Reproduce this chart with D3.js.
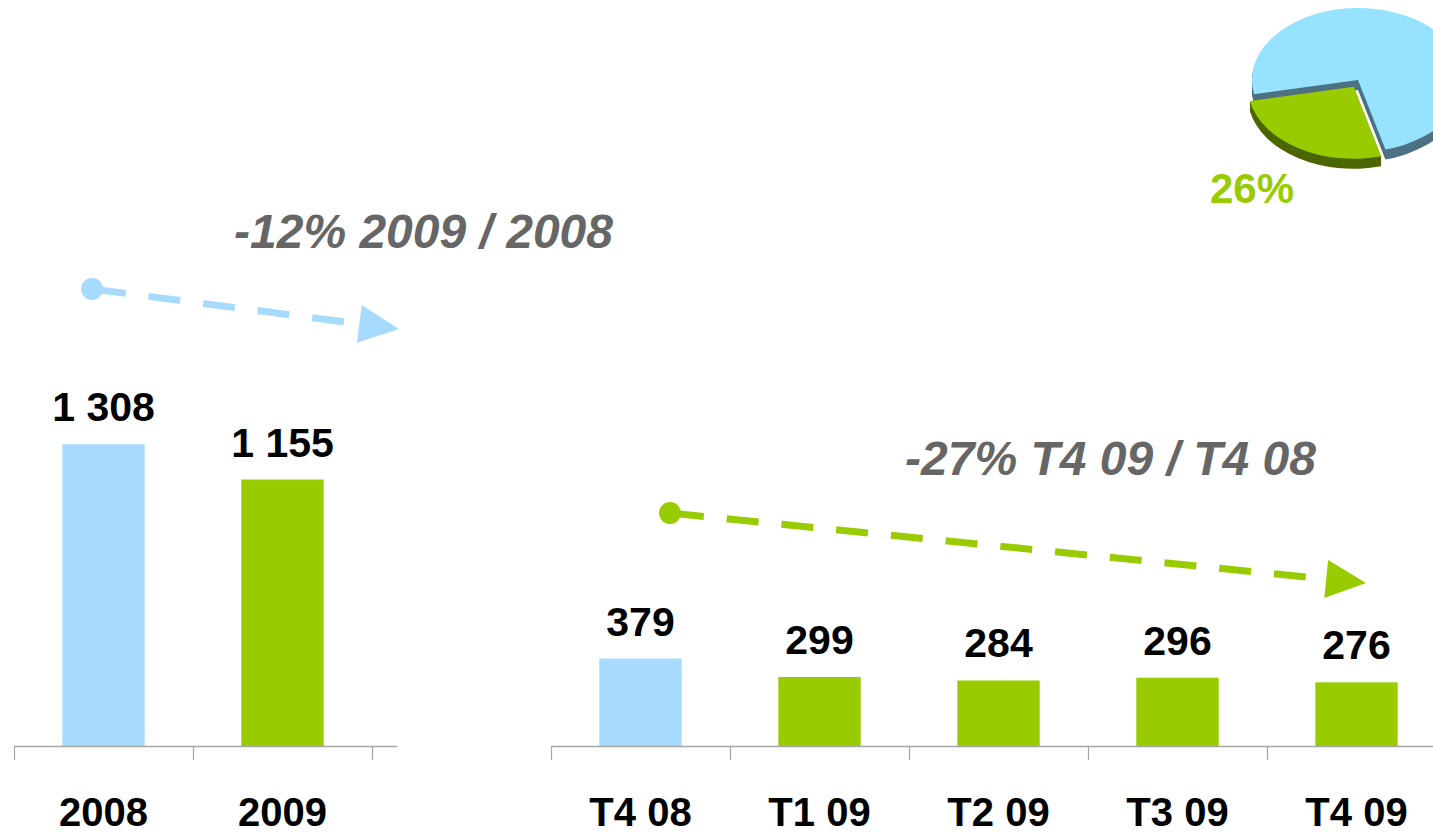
<!DOCTYPE html>
<html>
<head>
<meta charset="utf-8">
<script src="https://cdn.jsdelivr.net/npm/d3@7"></script>
<style>
  html, body { margin: 0; padding: 0; background: #ffffff; }
  svg { display: block; font-family: Arial, "Liberation Sans", sans-serif; }
</style>
</head>
<body>
<svg id="chart" width="1433" height="833"></svg>
<script>
// ---- Data ----
const yearCategories = ["2008", "2009"];
const yearValues = [1308, 1155];
const yearLabels = ["1 308", "1 155"];
const quarterCategories = ["T4 08", "T1 09", "T2 09", "T3 09", "T4 09"];
const quarterValues = [379, 299, 284, 296, 276];
const quarterLabels = ["379", "299", "284", "296", "276"];
const yearTitle = "-12% 2009 / 2008";
const quarterTitle = "-27% T4 09 / T4 08";
const pieShares = [26, 74];
const pieLabel = "26%";

// ---- Styles ----
const BLUE = "#A6DBFF", GREEN = "#99CC00", AXIS = "#A6A6A6", TITLE = "#666666";
const PIE_BLUE = "#97E2FF", PIE_BLUE_DARK = "#4E7183", PIE_GREEN_DARK = "#4C6600";

const svg = d3.select("#chart");
const baseline = 746;
const y = d3.scaleLinear().domain([0, 1400]).range([baseline, 423]);

function drawPanel(cats, vals, labels, range, axisEnd, colorFn) {
  const x = d3.scaleBand().domain(cats).range(range).padding(0);
  const g = svg.append("g");
  const bw = x.bandwidth() * 0.46;
  g.selectAll("rect").data(vals).enter().append("rect")
    .attr("x", (d, i) => x(cats[i]) + x.bandwidth() / 2 - bw / 2)
    .attr("width", bw)
    .attr("y", d => y(d))
    .attr("height", d => baseline - y(d))
    .attr("fill", (d, i) => colorFn(i));
  // axis line
  g.append("line").attr("x1", range[0]).attr("x2", axisEnd)
    .attr("y1", baseline + 0.5).attr("y2", baseline + 0.5)
    .attr("stroke", AXIS).attr("stroke-width", 1.5);
  const tickPos = cats.map(c => x(c)).concat([range[1]]);
  g.selectAll("line.tick").data(tickPos).enter().append("line")
    .attr("class", "tick")
    .attr("x1", d => Math.round(d) + 0.5).attr("x2", d => Math.round(d) + 0.5)
    .attr("y1", baseline).attr("y2", baseline + 14)
    .attr("stroke", AXIS).attr("stroke-width", 1.2);
  // value labels
  g.selectAll("text.val").data(vals).enter().append("text")
    .attr("class", "val")
    .attr("x", (d, i) => x(cats[i]) + x.bandwidth() / 2)
    .attr("y", d => y(d) - 23)
    .attr("text-anchor", "middle")
    .attr("font-size", 41).attr("font-weight", "bold").attr("fill", "#000")
    .text((d, i) => labels[i]);
  // category labels
  g.selectAll("text.cat").data(cats).enter().append("text")
    .attr("class", "cat")
    .attr("x", d => x(d) + x.bandwidth() / 2)
    .attr("y", 826)
    .attr("text-anchor", "middle")
    .attr("font-size", 40).attr("font-weight", "bold").attr("fill", "#000")
    .text(d => d);
}

drawPanel(yearCategories, yearValues, yearLabels, [14, 372], 397, i => i === 0 ? BLUE : GREEN);
drawPanel(quarterCategories, quarterValues, quarterLabels, [551, 1446], 1433, i => i === 0 ? BLUE : GREEN);

// ---- Titles ----
function title(txt, xPos, yPos) {
  svg.append("text").attr("x", xPos).attr("y", yPos)
    .attr("font-size", 48).attr("font-weight", "bold").attr("font-style", "italic")
    .attr("fill", TITLE).text(txt);
}
title(yearTitle, 234, 248);
title(quarterTitle, 905, 475);

// ---- Dashed trend arrows ----
function arrow(x1, y1, x2, y2, color) {
  const g = svg.append("g");
  const ang = Math.atan2(y2 - y1, x2 - x1);
  const headLen = 40, headHalf = 19;
  const bx = x2 - headLen * Math.cos(ang), by = y2 - headLen * Math.sin(ang);
  g.append("line").attr("x1", x1).attr("y1", y1).attr("x2", bx).attr("y2", by)
    .attr("stroke", color).attr("stroke-width", 7)
    .attr("stroke-dasharray", "32,23").attr("stroke-dashoffset", -2);
  g.append("circle").attr("cx", x1).attr("cy", y1).attr("r", 11).attr("fill", color);
  const px = -Math.sin(ang), py = Math.cos(ang);
  g.append("path")
    .attr("d", `M${x2},${y2} L${bx + px * headHalf},${by + py * headHalf} L${bx - px * headHalf},${by - py * headHalf} Z`)
    .attr("fill", color);
}
arrow(92, 289, 399, 329, BLUE);
arrow(670, 513, 1366, 583, GREEN);

// ---- 3D pie (top right) ----
const cx = 1358, cy = 80, rx = 106, ry = 72, depth = 10;
const startAngle = 165 * Math.PI / 180;
const pie = d3.pie().sort(null).startAngle(startAngle).endAngle(startAngle + 2 * Math.PI);
const arcs = pie(pieShares);
const arcGen = d3.arc().innerRadius(0).outerRadius(rx);
const sliceStyles = [
  { top: GREEN, side: PIE_GREEN_DARK, explode: 8 },
  { top: PIE_BLUE, side: PIE_BLUE_DARK, explode: 0 }
];
const pieG = svg.append("g");
[1, 0].forEach(idx => {
  const a = arcs[idx];
  const st = sliceStyles[idx];
  const mid = (a.startAngle + a.endAngle) / 2;
  const ex = Math.sin(mid) * st.explode, ey = -Math.cos(mid) * st.explode;
  const sg = pieG.append("g").attr("transform", `translate(${cx + ex},${cy + ey})`);
  for (let d = depth; d >= 1; d--) {
    sg.append("path").attr("d", arcGen(a))
      .attr("transform", `translate(0,${d}) scale(1,${ry / rx})`)
      .attr("fill", st.side);
  }
  sg.append("path").attr("d", arcGen(a))
    .attr("transform", `scale(1,${ry / rx})`)
    .attr("fill", st.top);
});
svg.append("text").attr("x", 1210).attr("y", 203)
  .attr("font-size", 42).attr("font-weight", "bold").attr("fill", GREEN)
  .text(pieLabel);
</script>
</body>
</html>
